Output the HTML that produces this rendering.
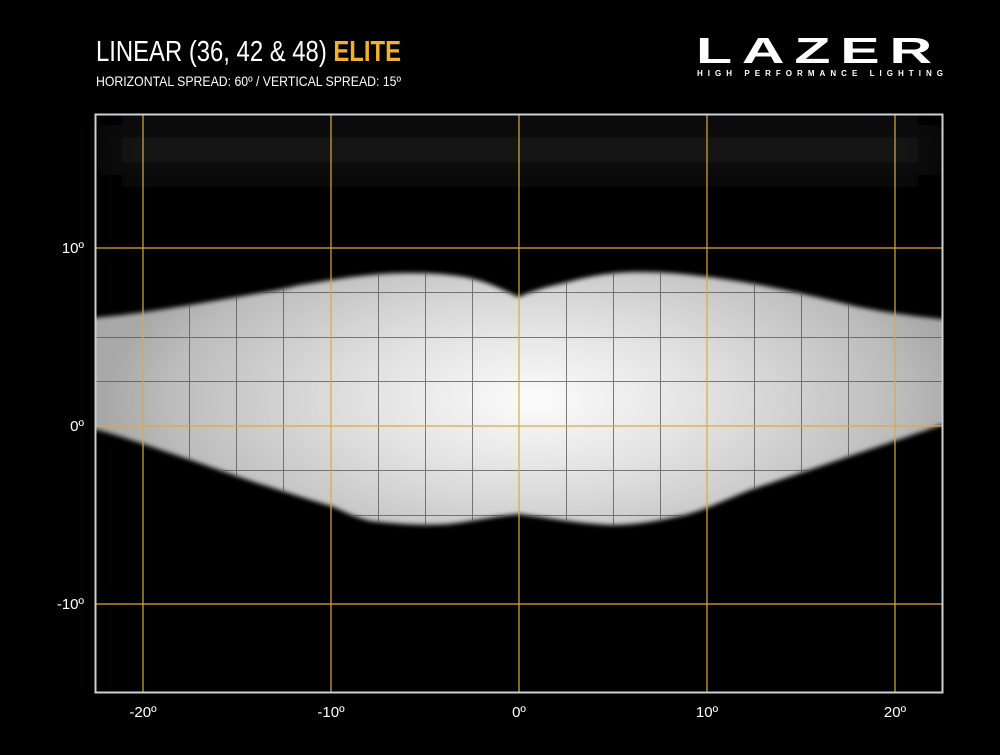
<!DOCTYPE html>
<html><head><meta charset="utf-8"><style>
html,body{margin:0;padding:0;background:#000;}
body{width:1000px;height:750px;overflow:hidden;position:relative;font-family:"Liberation Sans",sans-serif;}
</style></head><body>
<svg width="1000" height="750" viewBox="0 0 1000 750" xmlns="http://www.w3.org/2000/svg">
<defs>
<radialGradient id="g" cx="535" cy="400" r="430" gradientUnits="userSpaceOnUse" gradientTransform="translate(535 400) scale(1 0.45) translate(-535 -400)">
<stop offset="0" stop-color="#fcfcfc"/>
<stop offset="0.45" stop-color="#dedede"/>
<stop offset="0.85" stop-color="#bcbcbc"/>
<stop offset="1" stop-color="#a8a8a8"/>
</radialGradient>
<filter id="b" x="-5%" y="-20%" width="110%" height="140%"><feGaussianBlur stdDeviation="2.5"/></filter>
<filter id="b2" x="-10%" y="-50%" width="120%" height="200%"><feGaussianBlur stdDeviation="18"/></filter>
<clipPath id="pc"><rect x="96" y="115" width="846" height="577"/></clipPath>
<path id="beam" d="M90,318 C120,316 160,310 190,305 L237,297 C260,293 280,290 300,285 C320,282 340,278 370,275 C400,272 440,272 470,278 C495,284 510,294 519,297 C530,292 545,287 560,284 C590,276 610,272 640,272 C680,272 720,278 760,285 C800,293 830,300 850,305 C880,312 920,317 950,320 L950,422 C910,436 880,446 850,456 C810,470 780,480 750,490 C720,502 700,512 680,516 C650,523 630,525 610,525 C580,524 550,518 519,514 C495,516 480,520 450,524 C420,526 395,524 370,521 C350,516 340,509 331,506 C300,497 280,490 260,484 C230,474 200,463 170,453 C140,443 115,434 90,428 Z"/>
<clipPath id="bc"><use href="#beam"/></clipPath>
</defs>
<g clip-path="url(#pc)">
<rect x="96" y="115" width="846" height="577" fill="#000"/>
<rect x="110" y="125" width="820" height="50" fill="#141414" filter="url(#b2)"/>
<use href="#beam" fill="url(#g)" filter="url(#b)"/>
<g clip-path="url(#bc)" stroke="#4a4a4a" stroke-width="1" opacity="0.7">
<line x1="189.5" y1="100" x2="189.5" y2="700"/><line x1="236.5" y1="100" x2="236.5" y2="700"/><line x1="283.5" y1="100" x2="283.5" y2="700"/>
<line x1="378.5" y1="100" x2="378.5" y2="700"/><line x1="425.5" y1="100" x2="425.5" y2="700"/><line x1="472.5" y1="100" x2="472.5" y2="700"/>
<line x1="566.5" y1="100" x2="566.5" y2="700"/><line x1="613.5" y1="100" x2="613.5" y2="700"/><line x1="660.5" y1="100" x2="660.5" y2="700"/>
<line x1="754.5" y1="100" x2="754.5" y2="700"/><line x1="801.5" y1="100" x2="801.5" y2="700"/><line x1="848.5" y1="100" x2="848.5" y2="700"/>
<line x1="0" y1="292.5" x2="1000" y2="292.5"/><line x1="0" y1="337.5" x2="1000" y2="337.5"/><line x1="0" y1="381.5" x2="1000" y2="381.5"/>
<line x1="0" y1="470.5" x2="1000" y2="470.5"/><line x1="0" y1="515.5" x2="1000" y2="515.5"/>
</g>
<g stroke="#e0a83a" stroke-width="1.2">
<line x1="143" y1="115" x2="143" y2="692"/><line x1="331" y1="115" x2="331" y2="692"/><line x1="519" y1="115" x2="519" y2="692"/><line x1="707" y1="115" x2="707" y2="692"/><line x1="895" y1="115" x2="895" y2="692"/>
<line x1="96" y1="248" x2="942" y2="248"/><line x1="96" y1="426" x2="942" y2="426"/><line x1="96" y1="604" x2="942" y2="604"/>
</g>
</g>
<rect x="95.5" y="114.5" width="847" height="578" fill="none" stroke="#c8d2d8" stroke-width="2"/>
<g fill="#fff" font-size="15" font-family="Liberation Sans, sans-serif">
<text x="84" y="253" text-anchor="end">10º</text>
<text x="84" y="431" text-anchor="end">0º</text>
<text x="84" y="609" text-anchor="end">-10º</text>
<g text-anchor="middle">
<text x="143" y="717">-20º</text><text x="331" y="717">-10º</text><text x="519" y="717">0º</text><text x="707" y="717">10º</text><text x="895" y="717">20º</text>
</g>
</g>
<text x="96" y="61" fill="#fff" font-size="29" font-family="Liberation Sans Narrow, Liberation Sans, sans-serif" textLength="305" lengthAdjust="spacingAndGlyphs">LINEAR (36, 42 &amp; 48) <tspan fill="#f2b12a" font-weight="bold">ELITE</tspan></text>
<text x="96" y="86" fill="#fff" font-size="14" font-family="Liberation Sans Narrow, Liberation Sans, sans-serif" textLength="305" lengthAdjust="spacingAndGlyphs">HORIZONTAL SPREAD: 60º  /  VERTICAL SPREAD:  15º</text>
<text x="696" y="63" fill="#fff" font-size="36" font-weight="bold" font-family="Liberation Sans, sans-serif" textLength="246" lengthAdjust="spacingAndGlyphs" letter-spacing="6">LAZER</text>
<text x="697" y="76" fill="#fff" font-size="8" font-weight="bold" font-family="Liberation Sans, sans-serif" textLength="246" lengthAdjust="spacing">HIGH PERFORMANCE LIGHTING</text>
</svg>
</body></html>
